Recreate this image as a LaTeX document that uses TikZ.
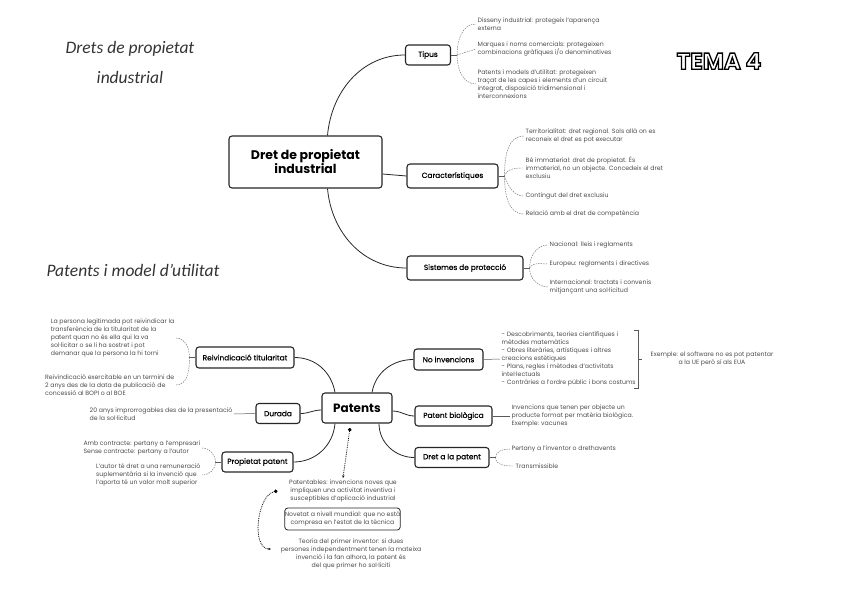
\documentclass[tikz,border=0pt]{standalone}
\usepackage{fontspec}
\setmainfont{Poppins}
\newfontfamily\titlefont{Carlito}
\newfontfamily\topicfont[FakeBold=0.5]{Poppins}
\usetikzlibrary{arrows.meta}

\tikzset{
  topic/.style={draw=black!85, line width=1.1pt, rounded corners=3pt, fill=white, font=\topicfont\fontsize{7.4}{8}\selectfont, inner sep=0pt, minimum height=20pt},
  note/.style={font=\fontsize{6.2}{8}\selectfont, text=black!70, align=left, inner sep=1.5pt},
  branch/.style={line width=0.8pt, black!85},
  twig/.style={black!55, line width=0.45pt, dash pattern=on 1.5pt off 1pt},
  stem/.style={black!65, line width=0.5pt},
  hint/.style={densely dotted, line width=0.8pt, {Circle[length=3.5pt]}-{Stealth[length=3pt]}}
}

\begin{document}
\begin{tikzpicture}[x=1pt, y=1pt]
    \useasboundingbox (0,0) rectangle (848,-599);
    % titols
    \node[font=\titlefont\itshape\fontsize{17.5}{30}\selectfont, text=black!80, align=center] (tit1) at (130,-62) {Drets de propietat\\industrial};
    \node[font=\titlefont\itshape\fontsize{17.5}{20}\selectfont, text=black!80] (tit2) at (133,-270) {Patents i model d’utilitat};
    \node[font=\bfseries\fontsize{23}{26}\selectfont] (tema) at (719,-61) {\special{pdf:literal direct 2 Tr 1.3 w 0 0 0 RG 1 1 1 rg}TEMA 4};

    % dret de propietat industrial
    \node[topic, font=\fontsize{12.5}{14}\selectfont\bfseries, align=center, minimum width=153pt, minimum height=52pt] (dpi) at (305.5,-162) {Dret de propietat\\industrial};
    \node[topic, minimum width=45pt] (tipus) at (428,-55) {Tipus};
    \node[topic, minimum width=91pt, minimum height=24pt] (carac) at (452.5,-176) {Característiques};
    \node[topic, minimum width=116pt, minimum height=24pt] (sist) at (465,-268) {Sistemes de protecció};
    \draw[branch] ([xshift=22pt]dpi.north) to[out=85,in=180] (tipus.west);
    \draw[branch] ([yshift=-12pt]dpi.east) -- (carac.west);
    \draw[branch] ([xshift=22pt]dpi.south) to[out=-85,in=180] (sist.west);

    \node[note, anchor=west] (t1) at (476,-24) {Disseny industrial: protegeix l'aparença\\externa};
    \node[note, anchor=west] (t2) at (476,-49) {Marques i noms comercials: protegeixen\\combinacions gràfiques i/o denominatives};
    \node[note, anchor=west] (t3) at (476,-84) {Patents i models d'utilitat: protegeixen\\traçat de les capes i elements d'un circuit\\integrat, disposició tridimensional i\\interconnexions};
    \coordinate (tj) at ([xshift=6pt]tipus.east);
    \draw[stem] (tipus.east) -- (tj);
    \draw[twig] (tj) to[out=90,in=180] (t1.west);
    \draw[twig] (tj) -- (t2.west);
    \draw[twig] (tj) to[out=-90,in=180] (t3.west);

    \node[note, anchor=west] (c1) at (524,-136) {Territorialitat: dret regional. Sols allà on es\\reconeix el dret es pot executar};
    \node[note, anchor=west] (c2) at (524,-168) {Bé immaterial: dret de propietat. És\\immaterial, no un objecte. Concedeix el dret\\exclusiu};
    \node[note, anchor=west] (c3) at (524,-196) {Contingut del dret exclusiu};
    \node[note, anchor=west] (c4) at (524,-214) {Relació amb el dret de competència};
    \coordinate (cj) at ([xshift=6pt]carac.east);
    \draw[stem] (carac.east) -- (cj);
    \draw[twig] (cj) to[out=90,in=180] (c1.west);
    \draw[twig] (cj) to[out=70,in=180] (c2.west);
    \draw[twig] (cj) to[out=-70,in=180] (c3.west);
    \draw[twig] (cj) to[out=-90,in=180] (c4.west);

    \node[note, anchor=west] (s1) at (548,-245) {Nacional: lleis i reglaments};
    \node[note, anchor=west] (s2) at (548,-264) {Europeu: reglaments i directives};
    \node[note, anchor=west] (s3) at (548,-287) {Internacional: tractats i convenis\\mitjançant una sol·licitud};
    \coordinate (sj) at ([xshift=6pt]sist.east);
    \draw[stem] (sist.east) -- (sj);
    \draw[twig] (sj) to[out=90,in=180] (s1.west);
    \draw[twig] (sj) to[out=60,in=180] (s2.west);
    \draw[twig] (sj) to[out=-90,in=180] (s3.west);

    % patents
    \node[topic, font=\fontsize{12}{14}\selectfont\bfseries, minimum width=70pt, minimum height=30pt] (pat) at (357,-408) {Patents};
    \node[topic, minimum width=69pt, minimum height=21pt] (noinv) at (448.5,-359.5) {No invencions};
    \node[topic, minimum width=77pt] (biol) at (453.5,-416) {Patent biològica};
    \node[topic, minimum width=74pt] (dret) at (452,-457.5) {Dret a la patent};
    \node[topic, minimum width=98pt, minimum height=21pt] (reiv) at (245,-357.5) {Reivindicació titularitat};
    \node[topic, minimum width=44pt] (dur) at (278,-413.5) {Durada};
    \node[topic, minimum width=71pt] (prop) at (257.5,-462) {Propietat patent};
    \draw[branch] (reiv.east) to[out=0,in=100] ([xshift=-22pt]pat.north);
    \draw[branch] ([xshift=15pt]pat.north) to[out=80,in=180] (noinv.west);
    \draw[branch] ([yshift=-3pt]pat.east) to[out=0,in=180] (biol.west);
    \draw[branch] ([xshift=22pt]pat.south) to[out=-90,in=180] (dret.west);
    \draw[branch] (dur.east) to[out=0,in=180] ([yshift=-2pt]pat.west);
    \draw[branch] (prop.east) to[out=0,in=-95] ([xshift=-22pt]pat.south);

    \node[note, anchor=west] (n1) at (500,-359) {- Descobriments, teories científiques i\\mètodes matemàtics\\- Obres literàries, artístiques i altres\\creacions estètiques\\- Plans, regles i mètodes d'activitats\\intel·lectuals\\- Contràries a l'ordre públic i bons costums};
    \draw[stem] (noinv.east) -- (n1.west);
    \draw[stem] (634,-330) -- (638,-330) -- (638,-388) -- (634,-388);
    \draw[stem] (638,-359) -- (642,-359);
    \node[note, align=center] (ex1) at (712,-359) {Exemple: el software no es pot patentar\\a la UE però sí als EUA};

    \node[note, anchor=west] (b1) at (510,-416) {Invencions que tenen per objecte un\\producte format per matèria biològica.\\Exemple: vacunes};
    \draw[stem] (biol.east) -- (b1.west);
    \node[note, anchor=west] (d1) at (510,-449) {Pertany a l'inventor o drethavents};
    \node[note, anchor=west] (d2) at (514,-466) {Transmissible};
    \coordinate (dj) at ([xshift=6pt]dret.east);
    \draw[stem] (dret.east) -- (dj);
    \draw[twig] (dj) to[out=90,in=180] (d1.west);
    \draw[twig] (dj) to[out=-90,in=180] (d2.west);

    \node[note, anchor=east] (r1) at (176,-338) {La persona legitimada pot reivindicar la\\transferència de la titularitat de la\\patent quan no és ella qui la va\\sol·licitar o se li ha sostret i pot\\demanar que la persona la hi torni};
    \node[note, anchor=east] (r2) at (176,-385) {Reivindicació exercitable en un termini de\\2 anys des de la data de publicació de\\concessió al BOPI o al BOE};
    \coordinate (rj) at ([xshift=-6pt]reiv.west);
    \draw[stem] (reiv.west) -- (rj);
    \draw[twig] (rj) to[out=90,in=0] (r1.east);
    \draw[twig] (rj) to[out=-90,in=0] (r2.east);

    \node[note, anchor=east] (du1) at (234,-414) {20 anys improrrogables des de la presentació\\de la sol·licitud};
    \draw[stem] (dur.west) -- (du1.east);

    \node[note, anchor=east] (p1) at (202,-448) {Amb contracte: pertany a l'empresari\\Sense contracte: pertany a l'autor};
    \node[note, anchor=east] (p2) at (202,-475) {L'autor té dret a una remuneració\\suplementària si la invenció que\\l'aporta té un valor molt superior};
    \coordinate (pj) at ([xshift=-6pt]prop.west);
    \draw[stem] (prop.west) -- (pj);
    \draw[twig] (pj) to[out=90,in=0] (p1.east);
    \draw[twig] (pj) to[out=-90,in=0] (p2.east);

    % patentables
    \coordinate (dotA) at (350,-428);
    \node[note, align=center] (pa1) at (343,-491) {Patentables: invencions noves que\\impliquen una activitat inventiva i\\susceptibles d'aplicació industrial};
    \node[topic, line width=0.8pt, font=\fontsize{6.2}{8}\selectfont, text=black!70, align=center, minimum width=115pt, minimum height=22pt] (nov) at (342.5,-519) {Novetat a nivell mundial: que no està\\compresa en l'estat de la tècnica};
    \node[note, align=center] (teo) at (351,-554) {Teoria del primer inventor: si dues\\persones independentment tenen la mateixa\\invenció i la fan alhora, la patent és\\del que primer ho sol·liciti};
    \draw[hint] (dotA) -- (pa1.north);
    \draw[hint] ([xshift=-10pt]pa1.west) to[out=190,in=180,looseness=0.9] ([xshift=-8pt,yshift=5pt]teo.west);
\end{tikzpicture}
\end{document}
